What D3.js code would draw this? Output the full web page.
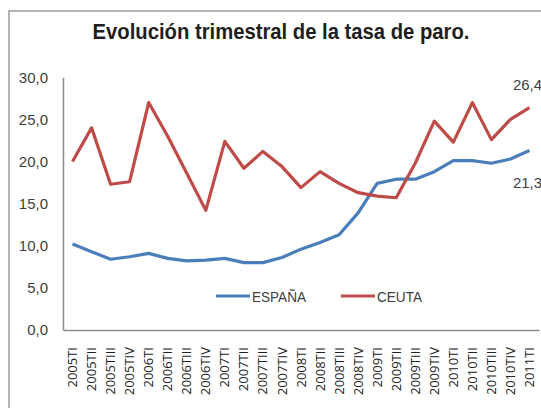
<!DOCTYPE html>
<html>
<head>
<meta charset="utf-8">
<script src="https://cdn.jsdelivr.net/npm/d3@7"></script>
<style>
  body { margin: 0; background: #fff; }
  svg { display: block; }
</style>
</head>
<body>
<svg id="chart" width="541" height="408"></svg>
<script>
// quarters on the x axis
const quarters = [
    '2005TI', '2005TII', '2005TIII', '2005TIV',
    '2006TI', '2006TII', '2006TIII', '2006TIV',
    '2007TI', '2007TII', '2007TIII', '2007TIV',
    '2008TI', '2008TII', '2008TIII', '2008TIV',
    '2009TI', '2009TII', '2009TIII', '2009TIV',
    '2010TI', '2010TII', '2010TIII', '2010TIV',
    '2011TI'
];

// unemployment rate, Spain
const espana = [
    10.2, 9.3, 8.4, 8.7,
    9.1, 8.5, 8.2, 8.3,
    8.5, 8.0, 8.0, 8.6,
    9.6, 10.4, 11.3, 13.9,
    17.4, 17.9, 17.9, 18.8,
    20.1, 20.1, 19.8, 20.3,
    21.3
];

// unemployment rate, Ceuta
const ceuta = [
    20.0, 24.0, 17.3, 17.6,
    27.0, 23.0, 18.6, 14.2,
    22.4, 19.2, 21.2, 19.4,
    16.9, 18.8, 17.4, 16.3,
    15.9, 15.7, 19.8, 24.8,
    22.3, 27.0, 22.6, 25.0,
    26.4
];

const yTicks = [0, 5, 10, 15, 20, 25, 30];

const svg = d3.select('#chart');
const grey = '#8c8c8c';
const textColor = '#404040';

// outer chart frame (cut off by the picture on the right and bottom)
svg.append('rect')
    .attr('x', 9).attr('y', 11)
    .attr('width', 600).attr('height', 500)
    .attr('fill', 'none')
    .attr('stroke', grey)
    .attr('stroke-width', 1.3);

// title
svg.append('text')
    .attr('x', 281).attr('y', 39)
    .attr('text-anchor', 'middle')
    .attr('font-family', '"Liberation Sans Narrow", "Arial Narrow", "Liberation Sans", sans-serif')
    .attr('font-weight', 'bold')
    .attr('font-size', 22)
    .attr('fill', '#1e1e1e')
    .attr('textLength', 377)
    .attr('lengthAdjust', 'spacingAndGlyphs')
    .text('Evolución trimestral de la tasa de paro.');

// scales
const x = d3.scaleBand().domain(quarters).range([63, 539]);
const y = d3.scaleLinear().domain([0, 30]).range([330, 77.3]);
const cx = d => x(d) + x.bandwidth() / 2;

const fmt = v => d3.format('.1f')(v).replace('.', ',');

// y axis
const yAxis = svg.append('g')
    .attr('transform', 'translate(63,0)')
    .call(d3.axisLeft(y).tickValues(yTicks).tickFormat(fmt).tickSize(0).tickPadding(15));
yAxis.select('.domain').attr('stroke', grey).attr('stroke-width', 1.5);
yAxis.selectAll('text')
    .attr('font-family', '"Liberation Sans", Arial, sans-serif')
    .attr('font-size', 15)
    .attr('fill', textColor);

// x axis
const xAxis = svg.append('g')
    .attr('transform', 'translate(0,330)')
    .call(d3.axisBottom(x).tickSize(0).tickSizeOuter(0));
xAxis.select('.domain').attr('stroke', grey).attr('stroke-width', 1.5);
xAxis.selectAll('text')
    .attr('font-family', '"Open Sans", sans-serif')
    .attr('font-size', 13)
    .attr('fill', '#222')
    .attr('text-anchor', 'end')
    .attr('transform', 'rotate(-90)')
    .attr('x', -17)
    .attr('y', 0)
    .attr('dy', '0.35em');

// series lines
const series = [
    { name: 'ESPAÑA', values: espana, color: '#4a7ebb', width: 54 },
    { name: 'CEUTA', values: ceuta, color: '#be4b48', width: 45 }
];

const line = d3.line()
    .x((d, i) => cx(quarters[i]))
    .y(d => y(d));

svg.selectAll('path.series')
    .data(series)
    .enter()
    .append('path')
    .attr('class', 'series')
    .attr('d', d => line(d.values))
    .attr('fill', 'none')
    .attr('stroke', d => d.color)
    .attr('stroke-width', 3.2)
    .attr('stroke-linejoin', 'round');

// end labels
const last = quarters.length - 1;
svg.append('text')
    .attr('x', cx(quarters[last]) - 2)
    .attr('y', y(ceuta[last]) - 18)
    .attr('text-anchor', 'middle')
    .attr('font-family', '"Liberation Sans", Arial, sans-serif')
    .attr('font-size', 15)
    .attr('fill', textColor)
    .text(fmt(ceuta[last]));
svg.append('text')
    .attr('x', cx(quarters[last]) - 2)
    .attr('y', y(espana[last]) + 37)
    .attr('text-anchor', 'middle')
    .attr('font-family', '"Liberation Sans", Arial, sans-serif')
    .attr('font-size', 15)
    .attr('fill', textColor)
    .text(fmt(espana[last]));

// legend
const legend = svg.append('g').attr('transform', 'translate(216,296)');
const items = legend.selectAll('g')
    .data(series)
    .enter()
    .append('g')
    .attr('transform', (d, i) => `translate(${i * 125},0)`);
items.append('line')
    .attr('x1', 0).attr('x2', 34)
    .attr('y1', 0).attr('y2', 0)
    .attr('stroke', d => d.color)
    .attr('stroke-width', 3.2);
items.append('text')
    .attr('x', 36)
    .attr('y', 0)
    .attr('dy', '0.36em')
    .attr('font-family', '"Liberation Sans", Arial, sans-serif')
    .attr('font-size', 15.5)
    .attr('fill', textColor)
    .attr('textLength', d => d.width)
    .attr('lengthAdjust', 'spacingAndGlyphs')
    .text(d => d.name);
</script>
</body>
</html>
